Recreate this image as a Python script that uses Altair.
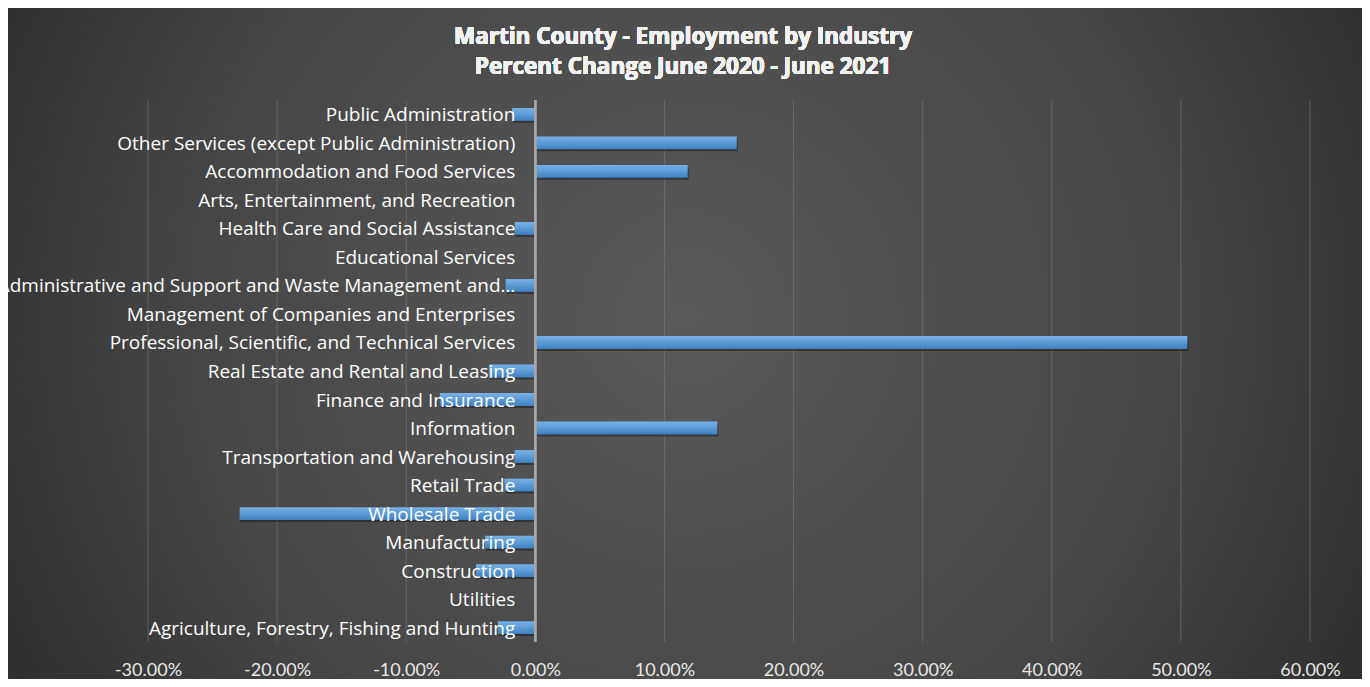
import altair as alt
import pandas as pd

industries = [
    "Public Administration",
    "Other Services (except Public Administration)",
    "Accommodation and Food Services",
    "Arts, Entertainment, and Recreation",
    "Health Care and Social Assistance",
    "Educational Services",
    "Administrative and Support and Waste Management and…",
    "Management of Companies and Enterprises",
    "Professional, Scientific, and Technical Services",
    "Real Estate and Rental and Leasing",
    "Finance and Insurance",
    "Information",
    "Transportation and Warehousing",
    "Retail Trade",
    "Wholesale Trade",
    "Manufacturing",
    "Construction",
    "Utilities",
    "Agriculture, Forestry, Fishing and Hunting",
]
pct_change = [
    -0.018, 0.156, 0.118, 0.0, -0.016, 0.0, -0.023, 0.0, 0.505, -0.036,
    -0.074, 0.141, -0.016, -0.024, -0.229, -0.039, -0.046, 0.0, -0.029,
]
x_ticks = [-0.3, -0.2, -0.1, 0.0, 0.1, 0.2, 0.3, 0.4, 0.5, 0.6]
title_lines = ["Martin County - Employment by Industry",
               "Percent Change June 2020 - June 2021"]

df = pd.DataFrame({"Industry": industries, "Change": pct_change})
ticks_df = pd.DataFrame({"tick": x_ticks})

W, H = 1162, 542
PAD = {"left": 140, "top": 92, "right": 52, "bottom": 37}

xscale = alt.Scale(domain=[-0.3, 0.6], nice=False, zero=False)
yenc = alt.Y("Industry:N", sort=industries, axis=None,
             scale=alt.Scale(paddingInner=0.55, paddingOuter=0.28))

bg = alt.Chart(df).mark_rect(
    color={
        "gradient": "radial",
        "x1": 0.5, "y1": 0.48, "r1": 0.0,
        "x2": 0.5, "y2": 0.48, "r2": 0.72,
        "stops": [
            {"offset": 0.0, "color": "#5a5a5a"},
            {"offset": 0.5, "color": "#464646"},
            {"offset": 1.0, "color": "#1e1e1e"},
        ],
    }
).encode(
    x=alt.value(-PAD["left"]), x2=alt.value(W + PAD["right"]),
    y=alt.value(-PAD["top"]), y2=alt.value(H + PAD["bottom"]),
)

grid = alt.Chart(ticks_df).mark_rule(color="#808080", opacity=0.55, strokeWidth=1).encode(
    x=alt.X("tick:Q", scale=xscale,
            axis=alt.Axis(values=x_ticks, title=None, grid=False,
                          labelExpr="replace(format(datum.value, '.2%'), '\u2212', '-')",
                          domain=False, ticks=False, labelColor="#e8e8e8",
                          labelFont="Lato", labelFontSize=18, labelPadding=19,
                          labelFlush=False, labelOverlap=False, zindex=1)),
    y=alt.value(0), y2=alt.value(H),
)

shadow = alt.Chart(df).mark_bar(color="#151515", opacity=0.45, yOffset=2, xOffset=1).encode(
    x=alt.X("Change:Q", scale=xscale),
    x2=alt.datum(0),
    y=yenc,
)

bars = alt.Chart(df).mark_bar(
    color={
        "gradient": "linear", "x1": 0, "y1": 0, "x2": 0, "y2": 1,
        "stops": [
            {"offset": 0.0, "color": "#7ab0e6"},
            {"offset": 0.5, "color": "#5b9bd5"},
            {"offset": 1.0, "color": "#3f7fc0"},
        ],
    }
).encode(
    x=alt.X("Change:Q", scale=xscale),
    x2=alt.datum(0),
    y=yenc,
)

zero = alt.Chart(df).mark_rule(color="#a6a6a6", strokeWidth=1.5).encode(
    x=alt.datum(0), y=alt.value(0), y2=alt.value(H)
)

labels = alt.Chart(df).mark_text(
    align="right", baseline="middle", dx=-20, dy=1,
    font="Open Sans", fontSize=19, color="#ffffff",
).encode(
    x=alt.datum(0),
    y=yenc,
    text="Industry:N",
)

title1 = alt.Chart(df).mark_text(
    align="center", baseline="middle", font="Open Sans", fontSize=22.5,
    fontWeight="bold", color="#f2f2f2",
).encode(x=alt.value(535), y=alt.value(-63), text=alt.value(title_lines[0]))

title2 = alt.Chart(df).mark_text(
    align="center", baseline="middle", font="Open Sans", fontSize=22.5,
    fontWeight="bold", color="#f2f2f2",
).encode(x=alt.value(535), y=alt.value(-33), text=alt.value(title_lines[1]))

chart = (
    alt.layer(bg, grid, shadow, bars, zero, labels, title1, title2)
    .properties(
        width=W, height=H,
        padding=PAD,
        autosize="none",
        background="#222222",
    )
    .configure_view(stroke=None)
)

chart.save("out.html", embed_options={"renderer": "svg", "actions": False})
